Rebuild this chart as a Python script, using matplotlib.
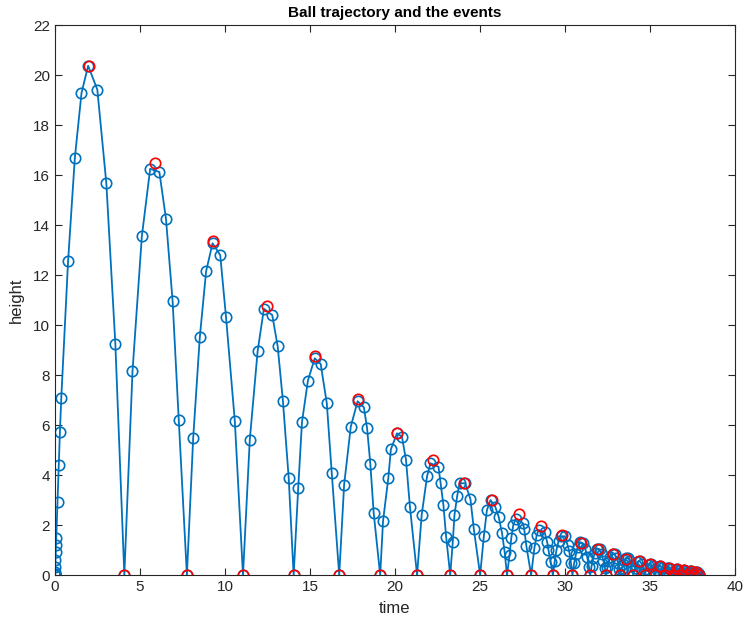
import numpy as np
import matplotlib
matplotlib.use('Agg')
import matplotlib.pyplot as plt

plt.rcParams['font.family'] = ['Liberation Sans', 'DejaVu Sans']

# trajectory samples (time, height)
time = [
    0, 0.0003, 0.0008, 0.0015, 0.003, 0.0055, 0.016, 0.03, 0.047, 0.061, 0.075,
    0.15, 0.225, 0.29, 0.37, 0.77, 1.17, 1.56, 1.95, 2.49, 3.02, 3.55, 4.08,
    4.56, 5.11, 5.60, 6.14, 6.53, 6.92, 7.28, 7.76,
    8.13, 8.52, 8.89, 9.27, 9.72, 10.06, 10.58, 11.06,
    11.46, 11.92, 12.29, 12.78, 13.10, 13.41, 13.75, 14.04,
    14.31, 14.53, 14.88, 15.28, 15.63, 15.99, 16.28, 16.72,
    17.01, 17.40, 17.80, 18.17, 18.36, 18.55, 18.75, 19.13,
    19.30, 19.61, 19.76, 20.12, 20.41, 20.65, 20.88, 21.30,
    21.57, 21.89, 22.09, 22.56, 22.68, 22.85, 23.01, 23.25,
    23.40, 23.50, 23.66, 23.80, 24.13, 24.44, 24.64, 25.01,
    25.23, 25.41, 25.62, 25.90, 26.10, 26.30, 26.45, 26.59,
    26.74, 26.84, 26.96, 27.10, 27.53, 27.60, 27.73, 28.01,
    28.20, 28.34, 28.45, 28.80, 28.95, 29.03, 29.16, 29.29,
    29.40, 29.50, 29.62, 29.75, 30.00, 30.15, 30.25, 30.35, 30.44,
    30.54, 30.65, 30.75, 30.91, 31.06, 31.19, 31.31, 31.41, 31.48,
    31.57, 31.67, 31.76, 31.90, 32.04, 32.15, 32.26, 32.35, 32.42,
    32.50, 32.59, 32.67, 32.80, 32.92, 33.03, 33.13, 33.20, 33.26,
    33.34, 33.41, 33.49, 33.60, 33.71, 33.81, 33.90, 33.96, 34.02,
    34.12, 34.26, 34.39, 34.53, 34.63, 34.70,
    34.79, 34.91, 35.04, 35.16, 35.25, 35.31,
    35.39, 35.50, 35.61, 35.72, 35.81, 35.86,
    35.93, 36.03, 36.13, 36.23, 36.31, 36.36,
    36.43, 36.52, 36.61, 36.70, 36.76, 36.81,
    36.87, 36.95, 37.03, 37.11, 37.17, 37.21,
    37.26, 37.34, 37.41, 37.48, 37.54, 37.57,
    37.62, 37.68, 37.75, 37.81, 37.86, 37.90,
]
height = [
    0, 0.006, 0.016, 0.03, 0.06, 0.11, 0.32, 0.59, 0.94, 1.21, 1.49,
    2.94, 4.39, 5.72, 7.08, 12.55, 16.7, 19.28, 20.37, 19.42, 15.68, 9.26, 0,
    8.15, 13.55, 16.25, 16.12, 14.25, 10.95, 6.22, 0,
    5.48, 9.52, 12.15, 13.27, 12.8, 10.33, 6.15, 0,
    5.42, 8.95, 10.65, 10.4, 9.15, 6.95, 3.87, 0,
    3.5, 6.12, 7.78, 8.67, 8.44, 6.87, 4.09, 0,
    3.62, 5.93, 6.95, 6.71, 5.87, 4.45, 2.47, 0,
    2.17, 3.89, 5.03, 5.67, 5.53, 4.6, 2.73, 0,
    2.4, 3.96, 4.47, 4.33, 3.69, 2.8, 1.53, 0,
    1.32, 2.4, 3.16, 3.67, 3.67, 3.03, 1.83, 0,
    1.56, 2.6, 3.0, 2.73, 2.33, 1.67, 0.93, 0,
    0.8, 1.47, 2.0, 2.25, 2.07, 1.85, 1.16, 0,
    1.07, 1.6, 1.8, 1.72, 1.33, 1.0, 0.53, 0,
    0.55, 1.0, 1.35, 1.55, 1.55, 1.2, 0.95, 0.5, 0,
    0.48, 0.84, 1.11, 1.31, 1.27, 1.06, 0.71, 0.34, 0,
    0.38, 0.68, 0.90, 1.06, 1.03, 0.86, 0.58, 0.28, 0,
    0.31, 0.55, 0.73, 0.86, 0.83, 0.70, 0.47, 0.23, 0,
    0.25, 0.45, 0.59, 0.69, 0.67, 0.57, 0.38, 0.18, 0,
    0.29, 0.52, 0.56, 0.43, 0.20, 0,
    0.23, 0.42, 0.46, 0.35, 0.17, 0,
    0.19, 0.34, 0.37, 0.28, 0.13, 0,
    0.15, 0.27, 0.30, 0.23, 0.11, 0,
    0.12, 0.22, 0.24, 0.18, 0.09, 0,
    0.10, 0.18, 0.20, 0.15, 0.07, 0,
    0.08, 0.15, 0.16, 0.12, 0.06, 0,
    0.07, 0.12, 0.13, 0.10, 0.05, 0,
]

# events: ground impacts and apexes
event_time = [
    4.08, 7.76, 11.06, 14.04, 16.72, 19.13, 21.30, 23.25, 25.01, 26.59,
    28.01, 29.29, 30.44, 31.48, 32.42, 33.26, 34.02, 34.70, 35.31, 35.86,
    36.36, 36.81, 37.21, 37.57, 37.90,
    2.0, 5.90, 9.30, 12.49, 15.31, 17.84, 20.12, 22.22, 24.05, 25.70,
    27.27, 28.60, 29.83, 30.95, 31.93, 32.80, 33.60, 34.33, 34.98, 35.57,
    36.10, 36.58, 37.01, 37.39, 37.73,
]
event_height = [0] * 25 + [
    20.38, 16.5, 13.38, 10.75, 8.75, 7.05, 5.70, 4.62, 3.70, 3.02,
    2.45, 1.98, 1.60, 1.30, 1.05, 0.84, 0.66, 0.55, 0.45, 0.37,
    0.30, 0.24, 0.19, 0.16, 0.13,
]

blue = '#0072BD'

fig = plt.figure(figsize=(7.46, 6.23), dpi=100)
ax = fig.add_axes([0.0737, 0.077, 0.9115, 0.8828])

ax.plot(time, height, '-o', color=blue, lw=1.3, ms=7.5, mfc='none', mew=1.2)
ax.plot(event_time, event_height, 'o', color='#FF0000', ms=7.5, mfc='none', mew=1.2)

ax.set_xlim(0, 40)
ax.set_ylim(0, 22)
ax.set_xticks(np.arange(0, 41, 5))
ax.set_yticks(np.arange(0, 23, 2))
ax.tick_params(direction='in', top=True, right=True, length=5, width=0.8,
               labelsize=11, colors='#262626')
for s in ax.spines.values():
    s.set_color('#262626')
    s.set_linewidth(0.8)

ax.set_xlabel('time', fontsize=12, color='#262626', labelpad=5)
ax.set_ylabel('height', fontsize=12, color='#262626', labelpad=7)
ax.set_title('Ball trajectory and the events', fontsize=11, fontweight='bold', pad=6)

fig.savefig('out.png', dpi=100)
